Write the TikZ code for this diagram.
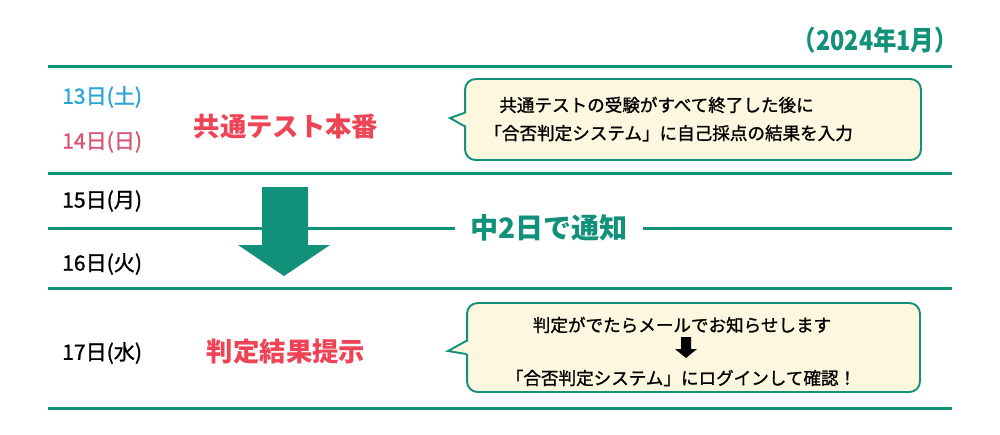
\documentclass[tikz,border=0pt]{standalone}
\usepackage{fontspec}
\setmainfont{Noto Sans CJK JP}
\newfontfamily\notefont[FakeBold=1.2]{Noto Sans CJK JP}
\usepackage{xcolor}
\usepackage{graphicx}
\usetikzlibrary{positioning}
\definecolor{kteal}{HTML}{12917A}
\definecolor{kcream}{HTML}{FDF7DF}
\definecolor{kblue}{HTML}{2AA4D2}
\definecolor{kpink}{HTML}{D95371}
\definecolor{kred}{HTML}{EE4455}

\begin{document}
\begin{tikzpicture}[x=0.02cm, y=-0.02cm,
        rule/.style={draw=kteal, line width=1.7pt},
        day/.style={anchor=west, font=\fontsize{12}{14}\selectfont\notefont},
        event/.style={text=kred, font=\fontsize{15}{18}\selectfont\bfseries},
        note/.style={draw=kteal, fill=kcream, line width=1.1pt, rounded corners=6pt, inner sep=0pt},
        msg/.style={font=\fontsize{10}{16}\selectfont\notefont, inner sep=0pt},
        pointer/.style={draw=kteal, line width=1.1pt, line join=miter}]

    \useasboundingbox (0,0) rectangle (1000,434);

    \node [anchor=east, text=kteal, font=\fontsize{15.5}{18}\selectfont\bfseries] (month) at (964,40) {\scalebox{0.86}[1]{（2024年1月）}};

    % horizontal rules
    \foreach \y in {66,173,288,408}
        \draw [rule] (48,\y) -- (952,\y);

    % dates
    \node [day, text=kblue] (d13) at (56,97) {13日(土)};
    \node [day, text=kpink] (d14) at (56,142) {14日(日)};
    \node [day] (d15) at (56,201) {15日(月)};
    \node [day] (d16) at (56,264) {16日(火)};
    \node [day] (d17) at (56,353) {17日(水)};

    % events
    \node [event] (exam) at (286,127) {共通テスト本番};
    \node [event] (result) at (286,352) {判定結果提示};

    % interval
    \node [text=kteal, inner xsep=0.3cm, font=\fontsize{16}{18}\selectfont\bfseries] (notify) at (549,228) {中2日で通知};
    \draw [rule] (48,228) -- (notify.west);
    \draw [rule] (notify.east) -- (952,228);
    \fill [kteal] (262,187) -- (308,187) -- (308,245) -- (330,245) -- (284,276) -- (238,245) -- (262,245) -- cycle;

    % first callout
    \node [note, minimum width=9.12cm, minimum height=1.62cm] (box1) at (693,119.5) {};
    \coordinate (tip1) at (450,118);
    \fill [kcream] ([shift={(0.06cm,0.13cm)}]box1.west) -- (tip1) -- ([shift={(0.06cm,-0.13cm)}]box1.west) -- cycle;
    \draw [pointer] ([yshift=0.13cm]box1.west) -- (tip1) -- ([yshift=-0.13cm]box1.west);
    \node [msg, anchor=west, align=left] (msg1) at (499,119) {共通テストの受験がすべて終了した後に\\\hspace*{-0.85em}「合否判定システム」に自己採点の結果を入力};

    % second callout
    \node [note, minimum width=9.06cm, minimum height=1.78cm] (box2) at (693.5,347.5) {};
    \coordinate (tip2) at (448,351);
    \fill [kcream] ([shift={(0.06cm,0.13cm)}]box2.west) -- (tip2) -- ([shift={(0.06cm,-0.13cm)}]box2.west) -- cycle;
    \draw [pointer] ([yshift=0.13cm]box2.west) -- (tip2) -- ([yshift=-0.13cm]box2.west);
    \node [msg] (msg2a) at (682,325) {判定がでたらメールでお知らせします};
    \node [msg] (msg2b) at (681,378) {「合否判定システム」にログインして確認！};
    \fill (681,337) -- (691,337) -- (691,349) -- (697,349) -- (686,358) -- (675,349) -- (681,349) -- cycle;
\end{tikzpicture}
\end{document}
